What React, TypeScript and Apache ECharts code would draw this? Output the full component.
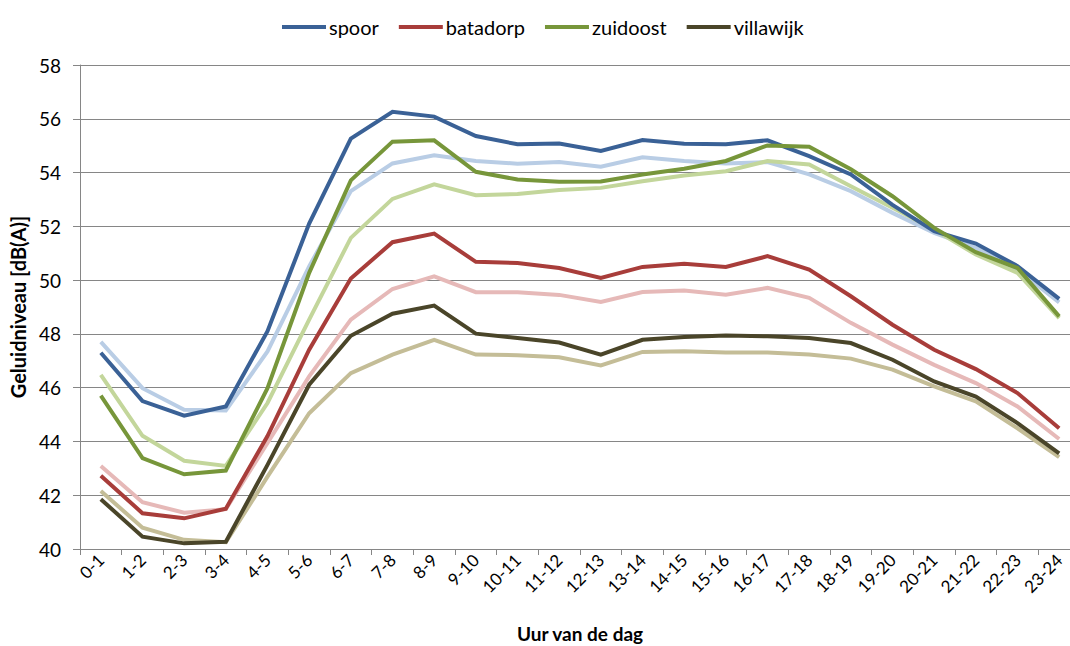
import React, { useEffect, useRef } from "react";
import * as echarts from "echarts";

const categories = ["0-1","1-2","2-3","3-4","4-5","5-6","6-7","7-8","8-9","9-10","10-11","11-12","12-13","13-14","14-15","15-16","16-17","17-18","18-19","19-20","20-21","21-22","22-23","23-24"];

const spoor = [47.3,45.5,44.96,45.3,48.1,52.1,55.26,56.26,56.08,55.36,55.05,55.08,54.8,55.21,55.07,55.05,55.2,54.61,53.93,52.8,51.82,51.36,50.52,49.3];
const batadorp = [42.72,41.33,41.14,41.5,44.2,47.41,50.06,51.41,51.73,50.68,50.64,50.45,50.08,50.49,50.61,50.49,50.89,50.39,49.4,48.34,47.41,46.69,45.8,44.49];
const zuidoost = [45.7,43.38,42.78,42.92,45.98,50.27,53.71,55.15,55.2,54.03,53.74,53.66,53.67,53.93,54.14,54.43,55.01,54.96,54.12,53.12,51.94,51.04,50.45,48.65];
const villawijk = [41.85,40.46,40.21,40.27,43.13,46.11,47.93,48.75,49.05,48.01,47.85,47.68,47.23,47.78,47.88,47.94,47.91,47.85,47.66,47.04,46.23,45.67,44.68,43.56];

const spoorLicht = [47.7,45.98,45.18,45.15,47.35,50.51,53.31,54.34,54.64,54.43,54.33,54.39,54.22,54.57,54.43,54.34,54.39,53.93,53.31,52.5,51.76,51.2,50.39,49.17];
const batadorpLicht = [43.09,41.74,41.35,41.48,43.94,46.42,48.53,49.67,50.14,49.55,49.55,49.45,49.19,49.56,49.61,49.46,49.71,49.34,48.41,47.6,46.85,46.17,45.3,44.09];
const zuidoostLicht = [46.48,44.21,43.28,43.09,45.43,48.53,51.57,53.02,53.56,53.16,53.2,53.35,53.43,53.68,53.89,54.05,54.43,54.3,53.49,52.69,51.88,50.95,50.27,48.59];
const villawijkLicht = [42.16,40.79,40.34,40.25,42.69,45.05,46.54,47.23,47.78,47.23,47.21,47.13,46.83,47.33,47.35,47.31,47.31,47.23,47.08,46.67,46.05,45.49,44.49,43.42];

const yTicks = [40, 42, 44, 46, 48, 50, 52, 54, 56, 58];

const FONT = "Lato, 'Open Sans', sans-serif";

export default function App() {
  const ref = useRef<HTMLDivElement>(null);
  useEffect(() => {
    document.body.style.margin = "0";
    if (!ref.current) return;
    const chart = echarts.init(ref.current, undefined, { renderer: "svg" });
    const mk = (name: string, data: number[], color: string, z: number) => ({
      name,
      type: "line",
      data,
      symbol: "none",
      z,
      lineStyle: { color, width: 4, join: "miter" },
      itemStyle: { color },
    });
    chart.setOption({
      animation: false,
      backgroundColor: "#ffffff",
      textStyle: { fontFamily: FONT },
      legend: {
        data: ["spoor", "batadorp", "zuidoost", "villawijk"],
        top: 12,
        left: 277,
        icon: "rect",
        itemWidth: 44,
        itemHeight: 4,
        itemGap: 20,
        textStyle: { fontSize: 20, color: "#000", fontFamily: FONT, padding: [0, 0, 0, -2] },
      },
      grid: { left: 80, top: 65, width: 1000, height: 484, containLabel: false, outerBoundsMode: "none" },
      xAxis: {
        type: "category",
        data: categories,
        boundaryGap: true,
        name: "Uur van de dag",
        nameLocation: "middle",
        nameGap: 75,
        nameTextStyle: { fontSize: 19, fontWeight: "bold", color: "#000", fontFamily: FONT },
        axisLine: { lineStyle: { color: "#868686", width: 1 } },
        axisTick: { show: true, length: 6, alignWithLabel: false, lineStyle: { color: "#868686" } },
        axisLabel: { rotate: 45, fontSize: 17, color: "#000", margin: 8, interval: 0, fontFamily: FONT },
        splitLine: { show: false },
      },
      yAxis: {
        type: "value",
        min: yTicks[0],
        max: yTicks[yTicks.length - 1],
        interval: 2,
        name: "Geluidniveau [dB(A)]",
        nameLocation: "middle",
        nameGap: 49,
        nameTextStyle: { fontSize: 20, fontWeight: "bold", color: "#000", fontFamily: FONT },
        axisLine: { show: true, lineStyle: { color: "#868686", width: 1 } },
        axisTick: { show: true, length: 7, lineStyle: { color: "#868686" } },
        axisLabel: { fontSize: 19, color: "#000", margin: 19, fontFamily: FONT },
        splitLine: { show: true, lineStyle: { color: "#868686", width: 1 } },
      },
      series: [
        mk("spoor", spoor, "#3A6196", 3),
        mk("batadorp", batadorp, "#A83D3A", 3),
        mk("zuidoost", zuidoost, "#77963A", 3),
        mk("villawijk", villawijk, "#4A4529", 3),
        mk("spoor licht", spoorLicht, "#B9CDE5", 2),
        mk("batadorp licht", batadorpLicht, "#E6B9B8", 2),
        mk("zuidoost licht", zuidoostLicht, "#C3D69B", 2),
        mk("villawijk licht", villawijkLicht, "#C4BD97", 2),
      ],
    });
    return () => chart.dispose();
  }, []);
  return <div ref={ref} style={{ width: 1070, height: 646 }} />;
}
